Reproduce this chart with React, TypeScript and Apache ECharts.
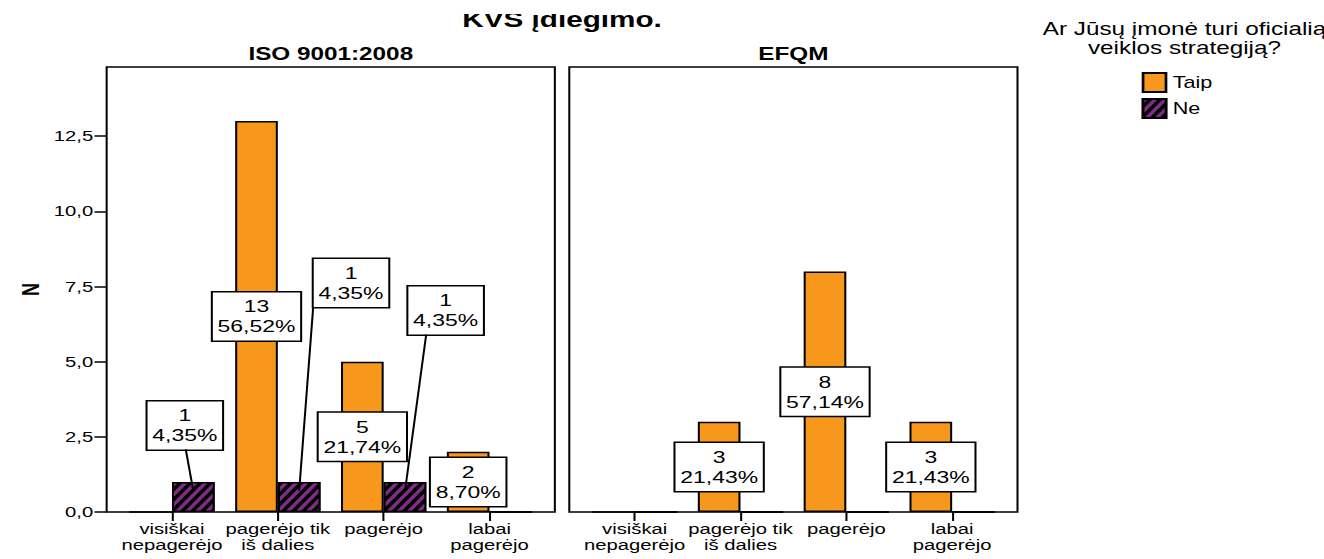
import React, { useEffect, useRef } from 'react';
import * as echarts from 'echarts';

// ---- data ----
const categories = ['visiškai\nnepagerėjo', 'pagerėjo tik\niš dalies', 'pagerėjo', 'labai\npagerėjo'];
const panelTitles = ['ISO 9001:2008', 'EFQM'];
const groupNames = ['Taip', 'Ne'];
const isoTaip = [0, 13, 5, 2];
const isoNe = [1, 1, 1, 0];
const efqmTaip = [0, 3, 8, 3];
const efqmNe = [0, 0, 0, 0];
const yTickValues = [0, 2.5, 5, 7.5, 10, 12.5];
const yMax = 14.8;
const mainTitle = 'KVS įdiegimo.';
const legendTitle = 'Ar Jūsų įmonė turi oficialią\nveiklos strategiją?';
const axisName = 'N';

// ---- layout (chart units; the canvas is stretched horizontally by SX) ----
const SX = 1.35;
const CW = 981;
const CH = 559;
const FRAME_TOP = 67;
const FRAME_H = 445;
const FRAME_W = 332;
const FRAME_LEFT = [79, 421.7];
const INSET = 9.2;
const BAR_W = 31.6;
// callout offsets for the "Ne" labels of the first panel (dx, dy from the bar centre)
const neLabelShift = [
  [-6.3, -71.5],
  [38.4, -214],
  [30.1, -186.5],
  [0, 0],
];
// where each leader line leaves the bottom edge of its label box (x offset from box centre)
const leaderStart = [0.7, -28, -14.4, 0];
const LABEL_HALF_H = 24;
const LEADER_END = 0.7;

const FONT = '"Liberation Sans", Arial, Helvetica, sans-serif';
const ORANGE = '#F7981D';
const PURPLE = '#7E2C86';
const BLACK = '#000';

const sum = (a: number[]) => a.reduce((s, v) => s + v, 0);
const pct = (v: number, total: number) => ((v / total) * 100).toFixed(2).replace('.', ',');

function panelSeries(p: number, taip: number[], ne: number[], shiftNe: boolean) {
  const total = sum(taip) + sum(ne);
  const labelBase = {
    show: true,
    position: 'inside',
    formatter: (params: any) => `${params.value}\n${pct(params.value, total)}%`,
    fontSize: 17,
    lineHeight: 20,
    color: BLACK,
    fontFamily: FONT,
    backgroundColor: '#fff',
    borderColor: BLACK,
    borderWidth: 1.5,
    padding: [4, 3.5, 4, 3.5],
  };
  const axisIdx = p * 2 + 1;
  const taipSeries: any = {
    type: 'bar',
    name: groupNames[0],
    xAxisIndex: axisIdx,
    yAxisIndex: axisIdx,
    barWidth: BAR_W,
    barGap: '0%',
    itemStyle: { color: ORANGE, borderColor: BLACK, borderWidth: 1.5 },
    label: labelBase,
    data: taip.map((v) => ({ value: v, label: { show: v > 0 } })),
  };
  const neSeries: any = {
    type: 'bar',
    name: groupNames[1],
    xAxisIndex: axisIdx,
    yAxisIndex: axisIdx,
    barWidth: BAR_W,
    barGap: '0%',
    itemStyle: {
      color: BLACK,
      borderColor: BLACK,
      borderWidth: 1.5,
      decal: {
        symbol: 'rect',
        symbolSize: 1,
        color: PURPLE,
        dashArrayX: [1, 0],
        dashArrayY: [3, 3],
        rotation: -0.934,
      },
    },
    label: labelBase,
    data: ne.map((v) => ({ value: v, label: { show: v > 0 } })),
  };
  if (shiftNe) {
    neSeries.labelLayout = (params: any) => {
      const s = neLabelShift[params.dataIndex];
      return { dx: s[0], dy: s[1] };
    };
  }
  return [taipSeries, neSeries];
}

function buildOption() {
  const grids: any[] = [];
  const xAxes: any[] = [];
  const yAxes: any[] = [];
  FRAME_LEFT.forEach((left, p) => {
    grids.push({
      left,
      top: FRAME_TOP,
      width: FRAME_W,
      height: FRAME_H,
      show: true,
      borderColor: BLACK,
      borderWidth: 1.5,
      backgroundColor: 'transparent',
    });
    grids.push({
      left: left + INSET,
      top: FRAME_TOP,
      width: FRAME_W - 2 * INSET,
      height: FRAME_H,
    });
    xAxes.push({ gridIndex: p * 2, type: 'value', min: 0, max: 1, show: false });
    xAxes.push({
      gridIndex: p * 2 + 1,
      type: 'category',
      data: categories,
      axisLine: { show: false },
      axisTick: { show: true, alignWithLabel: true, length: 9, lineStyle: { color: BLACK, width: 1.5 } },
      axisLabel: { interval: 0, margin: 9, fontSize: 15, lineHeight: 16, color: BLACK, fontFamily: FONT },
      splitLine: { show: false },
    });
    if (p === 0) {
      yAxes.push({
        gridIndex: 0,
        type: 'value',
        min: 0,
        max: yMax,
        interval: 2.5,
        name: axisName,
        nameLocation: 'middle',
        nameGap: 47,
        nameRotate: 90,
        nameTextStyle: { fontSize: 18, fontWeight: 'bold', color: BLACK, fontFamily: FONT },
        axisLine: { show: false },
        axisTick: { show: true, length: 9, customValues: yTickValues, lineStyle: { color: BLACK, width: 1.5 } },
        axisLabel: {
          customValues: yTickValues,
          margin: 10,
          fontSize: 15,
          color: BLACK,
          fontFamily: FONT,
          formatter: (v: number) => (yTickValues.includes(v) ? v.toFixed(1).replace('.', ',') : ''),
        },
        splitLine: { show: false },
      });
    } else {
      yAxes.push({ gridIndex: p * 2, type: 'value', min: 0, max: yMax, show: false });
    }
    yAxes.push({ gridIndex: p * 2 + 1, type: 'value', min: 0, max: yMax, show: false });
  });

  const series = [
    ...panelSeries(0, isoTaip, isoNe, true),
    ...panelSeries(1, efqmTaip, efqmNe, false),
  ];

  const framesCenter = (FRAME_LEFT[0] + FRAME_LEFT[1] + FRAME_W) / 2;

  return {
    animation: false,
    backgroundColor: '#fff',
    grid: grids,
    xAxis: xAxes,
    yAxis: yAxes,
    series,
    legend: {
      orient: 'vertical',
      left: 845.7,
      top: 72,
      padding: 0,
      itemWidth: 17,
      itemHeight: 19,
      itemGap: 5,
      icon: 'rect',
      selectedMode: false,
      data: groupNames,
      textStyle: { fontSize: 16, color: BLACK, fontFamily: FONT },
    },
    graphic: [
      {
        type: 'text',
        x: framesCenter,
        y: 19.3,
        z: 10,
        style: {
          text: mainTitle,
          textAlign: 'center',
          textVerticalAlign: 'middle',
          font: `bold 22px ${FONT}`,
          fill: BLACK,
        },
      },
      {
        type: 'rect',
        z: 20,
        shape: { x: framesCenter - 90, y: -2, width: 180, height: 16 },
        style: { fill: '#fff' },
      },
      ...panelTitles.map((t, p) => ({
        type: 'text',
        x: FRAME_LEFT[p] + FRAME_W / 2,
        y: 53.7,
        style: {
          text: t,
          textAlign: 'center',
          textVerticalAlign: 'middle',
          font: `bold 18px ${FONT}`,
          fill: BLACK,
        },
      })),
      {
        type: 'text',
        x: 877.4,
        y: 38.6,
        style: {
          text: legendTitle,
          textAlign: 'center',
          textVerticalAlign: 'middle',
          font: `18px ${FONT}`,
          lineHeight: 18,
          fill: BLACK,
        },
      },
    ] as any[],
  };
}

export default function App() {
  const ref = useRef<HTMLDivElement>(null);
  useEffect(() => {
    if (!ref.current) return;
    const chart = echarts.init(ref.current, null, { renderer: 'svg' });
    const option = buildOption();
    chart.setOption(option as any);
    // leader lines from the shifted "Ne" labels down into their bars
    const finder = { xAxisIndex: 1, yAxisIndex: 1 };
    isoNe.forEach((v, i) => {
      if (v <= 0) return;
      const mid = chart.convertToPixel(finder, [i, v / 2]) as number[];
      const end = chart.convertToPixel(finder, [i, v * LEADER_END]) as number[];
      const barX = mid[0] + BAR_W / 2;
      const [dx, dy] = neLabelShift[i];
      option.graphic.push({
        type: 'line',
        z: 5,
        shape: {
          x1: barX + dx + leaderStart[i],
          y1: mid[1] + dy + LABEL_HALF_H,
          x2: barX,
          y2: end[1],
        },
        style: { stroke: BLACK, lineWidth: 1.5 },
      });
    });
    chart.setOption(option as any, true);
    return () => chart.dispose();
  }, []);
  return (
    <div
      style={{
        position: 'absolute',
        left: 0,
        top: 0,
        width: 1324,
        height: CH,
        overflow: 'hidden',
        background: '#fff',
      }}
    >
      <div
        ref={ref}
        style={{ width: CW, height: CH, transform: `scaleX(${SX})`, transformOrigin: '0 0' }}
      />
    </div>
  );
}
